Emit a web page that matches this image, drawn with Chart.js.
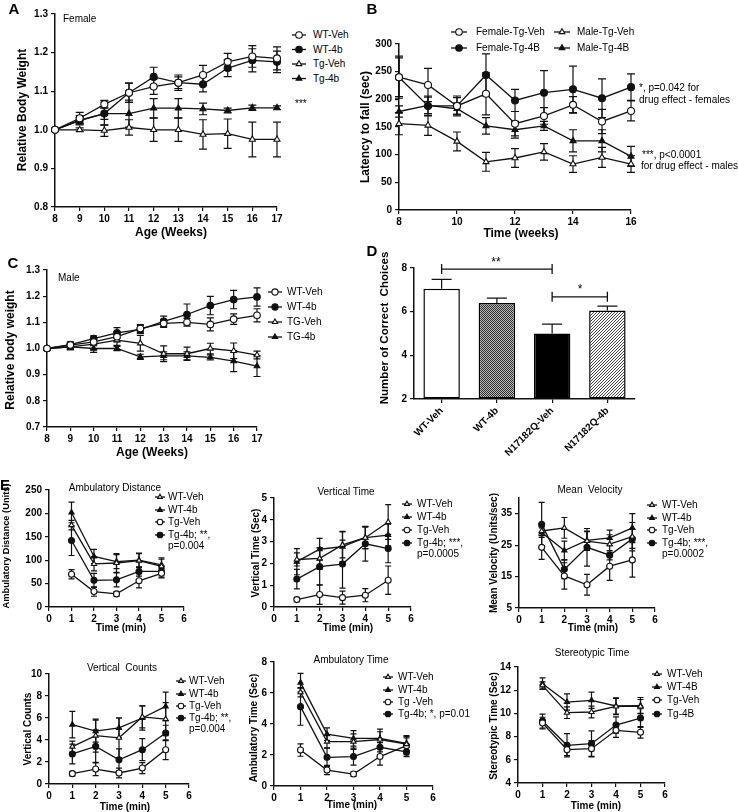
<!DOCTYPE html>
<html>
<head>
<meta charset="utf-8">
<title>Body weight, rotarod, T-maze and open field</title>
<script src="https://cdn.jsdelivr.net/npm/chart.js@4.4.1/dist/chart.umd.min.js"></script>
<style>
  body { margin: 0; background: #fff; }
  #fig { position: relative; width: 738px; height: 812px; overflow: hidden; font-family: 'Liberation Sans', Arial, sans-serif; color: #000; }
  #fig canvas { position: absolute; left: 0; top: 0; }
  .t { position: absolute; white-space: pre; line-height: 1; }
</style>
</head>
<body>
<div id="fig"></div>
<script>
// --- Data: A, female relative body weight ---
const weeksA = [8, 9, 10, 11, 12, 13, 14, 15, 16, 17];
const femWtVeh = [1.0, 1.03, 1.066, 1.096, 1.112, 1.122, 1.142, 1.176, 1.19, 1.185];
const femWtVehErr = [0, 0.015, 0.01, 0.025, 0.02, 0.02, 0.025, 0.022, 0.028, 0.03];
const femWt4b = [1.0, 1.025, 1.042, 1.096, 1.137, 1.122, 1.118, 1.16, 1.18, 1.176];
const femWt4bErr = [0, 0.012, 0.015, 0.025, 0.025, 0.015, 0.02, 0.022, 0.03, 0.028];
const femTgVeh = [1.0, 1.0, 0.998, 1.006, 1.0, 1.0, 0.988, 0.99, 0.975, 0.975];
const femTgVehErr = [0, 0.005, 0.015, 0.02, 0.03, 0.03, 0.038, 0.038, 0.045, 0.045];
const femTg4b = [1.0, 1.024, 1.042, 1.042, 1.056, 1.056, 1.054, 1.05, 1.057, 1.057];
const femTg4bErr = [0, 0.008, 0.03, 0.035, 0.025, 0.025, 0.015, 0.006, 0.007, 0.005];
const ticksAx = [8, 9, 10, 11, 12, 13, 14, 15, 16, 17];
const ticksAy = [0.8, 0.9, 1.0, 1.1, 1.2, 1.3];

// --- B, latency to fall ---
const weeksB = [8, 9, 10, 11, 12, 13, 14, 15, 16];
const fTgVeh = [240, 226, 188, 210, 156, 170, 190, 160, 179];
const fTgVehErr = [38, 30, 15, 38, 22, 15, 15, 22, 18];
const fTg4B = [240, 188, 188, 244, 198, 212, 218, 202, 222];
const fTg4BErr = [35, 18, 18, 38, 20, 40, 42, 35, 24];
const mTgVeh = [156, 153, 124, 87, 94, 105, 83, 95, 83];
const mTgVehErr = [20, 18, 17, 17, 17, 15, 15, 18, 15];
const mTg4B = [178, 189, 183, 152, 145, 152, 125, 125, 97];
const mTg4BErr = [10, 15, 10, 15, 15, 8, 20, 20, 18];
const ticksBx = [8, 10, 12, 14, 16];
const ticksBy = [0, 50, 100, 150, 200, 250, 300];

// --- C, male relative body weight ---
const weeksC = [8, 9, 10, 11, 12, 13, 14, 15, 16, 17];
const maleWtVeh = [1.0, 1.013, 1.025, 1.045, 1.076, 1.096, 1.1, 1.092, 1.112, 1.127];
const maleWtVehErr = [0, 0.01, 0.01, 0.02, 0.015, 0.015, 0.015, 0.025, 0.02, 0.025];
const maleWt4b = [1.0, 1.015, 1.038, 1.06, 1.073, 1.104, 1.13, 1.164, 1.187, 1.197];
const maleWt4bErr = [0, 0.01, 0.01, 0.02, 0.015, 0.02, 0.04, 0.035, 0.035, 0.035];
const maleTgVeh = [1.0, 1.006, 1.017, 1.032, 1.02, 0.98, 0.98, 1.0, 0.991, 0.975];
const maleTgVehErr = [0, 0.01, 0.02, 0.02, 0.03, 0.03, 0.025, 0.02, 0.03, 0.015];
const maleTg4b = [1.0, 1.006, 1.0, 1.0, 0.968, 0.972, 0.972, 0.966, 0.952, 0.933];
const maleTg4bErr = [0, 0.01, 0.015, 0.008, 0.01, 0.015, 0.015, 0.01, 0.04, 0.04];
const ticksCy = [0.7, 0.8, 0.9, 1.0, 1.1, 1.2, 1.3];

// --- D, correct choices ---
const groupsD = ['WT-Veh', 'WT-4b', 'N17182Q-Veh', 'N17182Q-4b'];
const choicesD = [7.05, 6.4, 5.0, 6.05];
const choicesErrD = [0.43, 0.22, 0.43, 0.2];
const ticksDy = [2, 4, 6, 8];
const sigPairs = [[0, 2], [2, 3]];
const sigLevels = [7.95, 6.68];

// --- E, open field (minutes 1-5) ---
const minutes = [1, 2, 3, 4, 5];
const ticksEx = [0, 1, 2, 3, 4, 5, 6];
const adWtVeh = [175, 92, 94, 99, 87], adWtVehErr = [10, 15, 20, 15, 15];
const adWt4b = [202, 108, 97, 100, 90], adWt4bErr = [22, 15, 15, 15, 15];
const adTgVeh = [70, 33, 28, 56, 72], adTgVehErr = [10, 10, 5, 15, 10];
const adTg4b = [142, 57, 58, 76, 76], adTg4bErr = [32, 15, 15, 10, 12];
const ticksE1y = [0, 50, 100, 150, 200, 250];

const vtWtVeh = [2.18, 2.23, 2.85, 3.18, 3.9], vtWtVehErr = [0.3, 0.5, 0.6, 0.5, 0.8];
const vtWt4b = [2.08, 2.65, 2.77, 3.18, 3.3], vtWt4bErr = [0.6, 0.5, 0.7, 0.5, 0.5];
const vtTgVeh = [0.34, 0.57, 0.43, 0.54, 1.23], vtTgVehErr = [0.1, 0.45, 0.3, 0.3, 0.65];
const vtTg4b = [1.28, 1.85, 1.97, 2.9, 2.68], vtTg4bErr = [0.45, 0.85, 1.1, 0.8, 0.65];
const ticksE2y = [0, 1, 2, 3, 4, 5];

const mvWtVeh = [29.5, 30.5, 26.3, 25.3, 27.7], mvWtVehErr = [1.5, 3.3, 3, 3, 4.5];
const mvWt4b = [29.0, 23.3, 26.5, 27.3, 30.5], mvWt4bErr = [1.5, 3, 3, 2.5, 4.5];
const mvTgVeh = [24.3, 15.2, 12.4, 18.3, 20.3], mvTgVehErr = [3.8, 4.2, 3.3, 4.5, 5.5];
const mvTg4b = [31.6, 17.3, 24.3, 21.8, 27.0], mvTg4bErr = [7, 3, 6, 1.5, 3];
const ticksE3y = [5, 15, 25, 35];

const vcWtVeh = [3.4, 4.4, 4.2, 6.1, 5.9], vcWtVehErr = [0.5, 1.5, 1.8, 1.0, 1.5];
const vcWt4b = [5.4, 4.8, 5.1, 6.0, 7.06], vcWt4bErr = [1.2, 1.0, 0.9, 1.1, 1.3];
const vcTgVeh = [0.94, 1.36, 1.0, 1.45, 3.12], vcTgVehErr = [0.2, 0.6, 0.45, 0.5, 0.9];
const vcTg4b = [2.73, 3.42, 2.2, 3.12, 4.64], vcTg4bErr = [0.9, 1.5, 1.0, 1.0, 0.7];
const ticksE4y = [0, 2, 4, 6, 8, 10];

const atWtVeh = [6.05, 2.86, 2.86, 3.0, 2.7], atWtVehErr = [0.3, 0.4, 0.5, 0.5, 0.4];
const atWt4b = [6.67, 3.35, 3.07, 3.07, 2.75], atWt4bErr = [0.6, 0.4, 0.5, 0.6, 0.5];
const atTgVeh = [2.32, 1.03, 0.77, 1.9, 2.6], atTgVehErr = [0.4, 0.3, 0.15, 0.55, 0.6];
const atTg4b = [5.12, 1.85, 1.9, 2.5, 2.2], atTg4bErr = [1.2, 0.6, 0.55, 0.3, 0.3];
const ticksE5y = [0, 2, 4, 6, 8];

const stWtVeh = [12.42, 10.06, 10.12, 10.6, 10.6], stWtVehErr = [0.3, 0.5, 0.5, 0.7, 0.6];
const stWt4B = [12.56, 10.98, 11.13, 10.64, 10.67], stWt4BErr = [0.5, 0.7, 0.7, 0.7, 0.7];
const stTgVeh = [9.17, 6.87, 6.96, 8.54, 8.37], stTgVehErr = [0.5, 0.5, 0.7, 0.6, 0.5];
const stTg4B = [9.34, 7.25, 7.39, 9.0, 9.6], stTg4BErr = [0.6, 1.0, 1.1, 0.7, 0.8];
const ticksE6y = [4, 6, 8, 10, 12, 14];

// --- Setup ---
const W = 738, H = 812;
const FONT = "'Liberation Sans', Arial, sans-serif";
const INK = '#111';
const fig = document.getElementById('fig');
const SHAPES_AC = [['circle', false], ['circle', true], ['triangle', false], ['triangle', true]];
const SHAPES_E = [['triangle', false], ['triangle', true], ['circle', false], ['circle', true]];

function txt(s, x, y, o = {}) {
    const d = document.createElement('div');
    d.className = 't';
    d.textContent = s;
    d.style.left = x + 'px';
    d.style.top = y + 'px';
    d.style.fontSize = (o.size || 10) + 'px';
    if (o.bold) d.style.fontWeight = 'bold';
    let tf = o.center ? 'translate(-50%,-50%)' : 'translate(0,-50%)';
    if (o.rot) tf = 'translate(-50%,-50%) rotate(-90deg)';
    d.style.transform = tf;
    fig.appendChild(d);
}

function drawMarker(ctx, shape, filled, x, y, r) {
    ctx.beginPath();
    if (shape === 'circle') {
        ctx.arc(x, y, r, 0, Math.PI * 2);
    } else {
        ctx.moveTo(x, y - r);
        ctx.lineTo(x + r * 0.866, y + r * 0.5);
        ctx.lineTo(x - r * 0.866, y + r * 0.5);
        ctx.closePath();
    }
    ctx.fillStyle = filled ? INK : '#fff';
    ctx.fill();
    ctx.lineWidth = 1.1;
    ctx.strokeStyle = INK;
    ctx.stroke();
}

// error bars, drawn from each dataset's err array through the y scale
function drawErr(chart, o) {
    const ctx = chart.ctx, y = chart.scales.y;
    ctx.save();
    ctx.strokeStyle = INK;
    ctx.lineWidth = 1.2;
    chart.data.datasets.forEach((ds, di) => {
        if (!ds.err) return;
        chart.getDatasetMeta(di).data.forEach((el, i) => {
            const e = ds.err[i];
            if (!e) return;
            const raw = ds.data[i];
            const v = typeof raw === 'number' ? raw : raw.y;
            const top = y.getPixelForValue(v + e);
            const bot = o.bar ? el.y : y.getPixelForValue(v - e);
            const c = o.cap || 3;
            ctx.beginPath();
            ctx.moveTo(el.x, top); ctx.lineTo(el.x, bot);
            ctx.moveTo(el.x - c, top); ctx.lineTo(el.x + c, top);
            if (!o.bar) { ctx.moveTo(el.x - c, bot); ctx.lineTo(el.x + c, bot); }
            ctx.stroke();
        });
    });
    ctx.restore();
}

const errorBars = {
    id: 'errorBars',
    beforeDatasetsDraw(chart, args, o) { if (!o.bar) drawErr(chart, o); },
    afterDatasetsDraw(chart, args, o) { if (o.bar) drawErr(chart, o); }
};

const legendMarks = {
    id: 'legendMarks',
    afterDraw(chart, args, o) {
        const ctx = chart.ctx;
        (o.items || []).forEach(it => {
            ctx.save();
            ctx.strokeStyle = INK;
            ctx.lineWidth = 1.3;
            ctx.beginPath();
            ctx.moveTo(it.x - it.half, it.y);
            ctx.lineTo(it.x + it.half, it.y);
            ctx.stroke();
            drawMarker(ctx, it.shape, it.filled, it.x, it.y, it.r);
            ctx.restore();
        });
    }
};

const brackets = {
    id: 'brackets',
    afterDraw(chart, args, o) {
        const { ctx, scales: { x, y } } = chart;
        ctx.save();
        ctx.strokeStyle = INK;
        ctx.lineWidth = 1.3;
        sigPairs.forEach((p, k) => {
            const x1 = x.getPixelForValue(p[0]), x2 = x.getPixelForValue(p[1]);
            const yy = y.getPixelForValue(sigLevels[k]);
            ctx.beginPath();
            ctx.moveTo(x1, yy); ctx.lineTo(x2, yy);
            ctx.moveTo(x1, yy - 5); ctx.lineTo(x1, yy + 5);
            ctx.moveTo(x2, yy - 5); ctx.lineTo(x2, yy + 5);
            ctx.stroke();
        });
        ctx.restore();
    }
};

function addCanvas() {
    const c = document.createElement('canvas');
    c.width = W; c.height = H;
    fig.appendChild(c);
    return c;
}

function axisBase(fontSize) {
    return {
        grid: { display: true, drawOnChartArea: false, color: INK, lineWidth: 1.2, tickLength: 4, offset: false },
        border: { display: true, color: INK, width: 1.5 },
        ticks: { autoSkip: false, color: '#000', padding: 2, font: { family: FONT, size: fontSize || 10, weight: 'bold' } }
    };
}

function xScale(box, o) {
    const s = axisBase(o.font);
    s.type = o.type || 'linear';
    s.offset = !!o.offset;
    if (o.min !== undefined) { s.min = o.min; s.max = o.max; }
    s.ticks.maxRotation = o.rot || 0;
    s.ticks.minRotation = o.rot || 0;
    if (o.ticks) s.afterBuildTicks = sc => { sc.ticks = o.ticks.map(v => ({ value: v })); };
    s.afterFit = sc => { sc.height = H - box.b; sc.paddingLeft = 0; sc.paddingRight = 0; };
    return s;
}

function yScale(box, o) {
    const s = axisBase(o.font);
    s.type = 'linear';
    s.min = o.min; s.max = o.max;
    s.ticks.padding = 3;
    if (o.cb) s.ticks.callback = o.cb;
    s.afterBuildTicks = sc => { sc.ticks = o.ticks.map(v => ({ value: v })); };
    s.afterFit = sc => { sc.width = box.l; sc.paddingTop = 0; sc.paddingBottom = 0; };
    return s;
}

function lineSets(xs, valueLists, errLists, shapes, r) {
    return valueLists.map((ys, k) => ({
        data: xs.map((x, i) => ({ x, y: ys[i] })),
        err: errLists[k],
        showLine: true,
        clip: false,
        borderColor: INK,
        borderWidth: 1.3,
        pointStyle: shapes[k][0],
        pointRadius: r,
        pointHoverRadius: r,
        pointBackgroundColor: shapes[k][1] ? INK : '#fff',
        pointBorderColor: INK,
        pointBorderWidth: 1.1
    }));
}

// legend: marker + short line on the canvas, names as page text
function legend(spec, shapes, r) {
    const pick = (v, k) => Array.isArray(v) ? v[k] : v;
    spec.names.forEach((n, k) => txt(n, pick(spec.tx, k), spec.rows[k]));
    return spec.names.map((n, k) => ({
        x: pick(spec.mx, k), y: spec.rows[k], half: spec.half,
        shape: shapes[k][0], filled: shapes[k][1], r
    }));
}

function lineChart(box, xo, yo, sets, items, cap) {
    return new Chart(addCanvas(), {
        type: 'scatter',
        data: { datasets: sets },
        options: {
            responsive: false,
            animation: false,
            devicePixelRatio: 1,
            events: [],
            layout: { padding: { top: box.t, right: W - box.r, left: 0, bottom: 0 } },
            scales: { x: xScale(box, xo), y: yScale(box, yo) },
            plugins: {
                legend: { display: false },
                tooltip: { enabled: false },
                errorBars: { cap },
                legendMarks: { items }
            }
        },
        plugins: [errorBars, legendMarks]
    });
}

const fix1 = v => v.toFixed(1);

// --- A ---
lineChart({ l: 55, t: 14, r: 277, b: 207 },
    { min: 8, max: 17, ticks: ticksAx },
    { min: 0.8, max: 1.3, ticks: ticksAy, cb: fix1 },
    lineSets(weeksA, [femWtVeh, femWt4b, femTgVeh, femTg4b], [femWtVehErr, femWt4bErr, femTgVehErr, femTg4bErr], SHAPES_AC, 3.5),
    legend({ names: ['WT-Veh', 'WT-4b', 'Tg-Veh', 'Tg-4b'], mx: 299, half: 7, tx: 313, rows: [35, 49.5, 64, 78.5] }, SHAPES_AC, 3.3),
    4);

// --- B ---
lineChart({ l: 399, t: 44, r: 631, b: 210 },
    { min: 8, max: 16, ticks: ticksBx },
    { min: 0, max: 300, ticks: ticksBy },
    lineSets(weeksB, [fTgVeh, fTg4B, mTgVeh, mTg4B], [fTgVehErr, fTg4BErr, mTgVehErr, mTg4BErr], SHAPES_AC, 3.5),
    legend({ names: ['Female-Tg-Veh', 'Female-Tg-4B', 'Male-Tg-Veh', 'Male-Tg-4B'], mx: [459, 459, 562, 562], half: 8, tx: [476, 476, 577, 577], rows: [32, 48, 32, 48] }, SHAPES_AC, 3.3),
    4);

// --- C ---
lineChart({ l: 47, t: 270, r: 257, b: 427 },
    { min: 8, max: 17, ticks: ticksAx },
    { min: 0.7, max: 1.3, ticks: ticksCy, cb: fix1 },
    lineSets(weeksC, [maleWtVeh, maleWt4b, maleTgVeh, maleTg4b], [maleWtVehErr, maleWt4bErr, maleTgVehErr, maleTg4bErr], SHAPES_AC, 3.3),
    legend({ names: ['WT-Veh', 'WT-4b', 'TG-Veh', 'TG-4b'], mx: 275, half: 7, tx: 287, rows: [292, 307, 322, 337] }, SHAPES_AC, 3.1),
    3.5);

// --- D (bars with fill patterns) ---
function pattern(n, draw) {
    const p = document.createElement('canvas');
    p.width = p.height = n;
    draw(p.getContext('2d'));
    return p.getContext('2d').createPattern(p, 'repeat');
}
const checker = pattern(2, g => {
    g.fillStyle = '#bdbdbd'; g.fillRect(0, 0, 2, 2);
    g.fillStyle = '#2a2a2a'; g.fillRect(0, 0, 1, 1); g.fillRect(1, 1, 1, 1);
});
const hatch = pattern(3, g => {
    g.fillStyle = '#fff'; g.fillRect(0, 0, 3, 3);
    g.fillStyle = '#444'; g.fillRect(0, 2, 1, 1); g.fillRect(1, 1, 1, 1); g.fillRect(2, 0, 1, 1);
});
const boxD = { l: 414, t: 268, r: 635, b: 399 };
new Chart(addCanvas(), {
    type: 'bar',
    data: {
        labels: groupsD,
        datasets: [{
            data: choicesD,
            err: choicesErrD,
            base: 2,
            backgroundColor: ['#fff', checker, '#000', hatch],
            borderColor: '#000',
            borderWidth: 1.5,
            borderSkipped: false,
            barPercentage: 0.66,
            categoryPercentage: 1
        }]
    },
    options: {
        responsive: false,
        animation: false,
        devicePixelRatio: 1,
        events: [],
        layout: { padding: { top: boxD.t, right: W - boxD.r, left: 0, bottom: 0 } },
        scales: {
            x: xScale(boxD, { type: 'category', offset: true, rot: 45 }),
            y: yScale(boxD, { min: 2, max: 8, ticks: ticksDy })
        },
        plugins: { legend: { display: false }, tooltip: { enabled: false }, errorBars: { bar: true, cap: 10 } }
    },
    plugins: [errorBars, brackets]
});

// --- E panels ---
const eNames = ['WT-Veh', 'WT-4b', 'Tg-Veh'];
lineChart({ l: 49, t: 490, r: 184, b: 607 },
    { min: 0, max: 6, ticks: ticksEx },
    { min: 0, max: 250, ticks: ticksE1y },
    lineSets(minutes, [adWtVeh, adWt4b, adTgVeh, adTg4b], [adWtVehErr, adWt4bErr, adTgVehErr, adTg4bErr], SHAPES_E, 3),
    legend({ names: [...eNames, 'Tg-4b; **,'], mx: 160, half: 5, tx: 168, rows: [497, 510, 522, 535] }, SHAPES_E, 2.8),
    3);
lineChart({ l: 274, t: 498, r: 411, b: 607 },
    { min: 0, max: 6, ticks: ticksEx },
    { min: 0, max: 5, ticks: ticksE2y },
    lineSets(minutes, [vtWtVeh, vtWt4b, vtTgVeh, vtTg4b], [vtWtVehErr, vtWt4bErr, vtTgVehErr, vtTg4bErr], SHAPES_E, 3),
    legend({ names: [...eNames, 'Tg-4b; ***,'], mx: 407, half: 5, tx: 417, rows: [504, 517, 530, 543] }, SHAPES_E, 2.8),
    3);
lineChart({ l: 519, t: 498, r: 655, b: 608 },
    { min: 0, max: 6, ticks: ticksEx },
    { min: 5, max: 40, ticks: ticksE3y },
    lineSets(minutes, [mvWtVeh, mvWt4b, mvTgVeh, mvTg4b], [mvWtVehErr, mvWt4bErr, mvTgVehErr, mvTg4bErr], SHAPES_E, 3),
    legend({ names: [...eNames, 'Tg-4b; ***,'], mx: 652, half: 5, tx: 662, rows: [505, 518, 530, 543] }, SHAPES_E, 2.8),
    3);
lineChart({ l: 49, t: 674, r: 189, b: 784 },
    { min: 0, max: 6, ticks: ticksEx },
    { min: 0, max: 10, ticks: ticksE4y },
    lineSets(minutes, [vcWtVeh, vcWt4b, vcTgVeh, vcTg4b], [vcWtVehErr, vcWt4bErr, vcTgVehErr, vcTg4bErr], SHAPES_E, 3),
    legend({ names: [...eNames, 'Tg-4b; **,'], mx: 181, half: 5, tx: 189, rows: [681, 694, 706, 718] }, SHAPES_E, 2.8),
    3);
lineChart({ l: 274, t: 662, r: 433, b: 786 },
    { min: 0, max: 6, ticks: ticksEx },
    { min: 0, max: 8, ticks: ticksE5y },
    lineSets(minutes, [atWtVeh, atWt4b, atTgVeh, atTg4b], [atWtVehErr, atWt4bErr, atTgVehErr, atTg4bErr], SHAPES_E, 3),
    legend({ names: ['WT-Veh', 'WT-4b', 'Tg -Veh', 'Tg-4b; *, p=0.01'], mx: 388, half: 5, tx: 398, rows: [677, 690, 702, 714] }, SHAPES_E, 2.8),
    3);
lineChart({ l: 518, t: 667, r: 665, b: 783 },
    { min: 0, max: 6, ticks: ticksEx },
    { min: 4, max: 14, ticks: ticksE6y },
    lineSets(minutes, [stWtVeh, stWt4B, stTgVeh, stTg4B], [stWtVehErr, stWt4BErr, stTgVehErr, stTg4BErr], SHAPES_E, 3),
    legend({ names: ['WT-Veh', 'WT-4B', 'Tg-Veh', 'Tg-4B'], mx: 657, half: 5, tx: 667, rows: [674, 687, 700, 714] }, SHAPES_E, 2.8),
    3);

// --- Text: panel letters, axis titles, notes ---
[['A', 14, 8], ['B', 372, 8], ['C', 13, 262], ['D', 372, 250], ['E', 5, 484]]
    .forEach(([s, x, y]) => txt(s, x, y, { size: 15, bold: true, center: true }));

[['Relative Body Weight', 22, 110, 12], ['Latency to fall (sec)', 365, 127, 12],
 ['Relative body weight', 10, 350, 12], ['Number of Correct  Choices', 385, 328, 11.5],
 ['Ambulatory Distance (Units)', 7, 546, 9.3], ['Vertical Time (Sec)', 256, 553, 10],
 ['Mean Velocity (Units/sec)', 494, 553, 10], ['Vertical Counts', 28, 729, 10],
 ['Ambulatory Time (Sec)', 254, 728, 10], ['Stereotypic Time (Sec)', 494, 726, 10]]
    .forEach(([s, x, y, f]) => txt(s, x, y, { size: f, bold: true, rot: true }));

[['Age (Weeks)', 171, 232, 12], ['Time (weeks)', 521, 233, 12], ['Age (Weeks)', 152, 452, 12],
 ['Time (min)', 121, 628, 10], ['Time (min)', 348, 628, 10], ['Time (min)', 593, 628, 10],
 ['Time (min)', 125, 807, 10], ['Time (min)', 352, 805, 10], ['Time (min)', 596, 806, 10]]
    .forEach(([s, x, y, f]) => txt(s, x, y, { size: f, bold: true, center: true }));

[['Ambulatory Distance', 115, 488], ['Vertical Time', 346, 492], ['Mean  Velocity', 590, 490],
 ['Vertical  Counts', 122, 668], ['Ambulatory Time', 351, 660], ['Stereotypic Time', 592, 653]]
    .forEach(([s, x, y]) => txt(s, x, y, { center: true }));

[['Female', 63, 19], ['***', 295, 104], ['*, p=0.042 for', 639, 88], ['drug effect - females', 639, 100],
 ['***, p<0.0001', 642, 155], ['for drug effect - males', 641, 166], ['Male', 58, 278],
 ['p=0.004', 168, 546], ['p=0.0005', 417, 554], ['p=0.0002', 662, 554], ['p=0.004', 189, 729]]
    .forEach(([s, x, y]) => txt(s, x, y));

txt('**', 496, 262, { size: 12, center: true });
txt('*', 580, 289, { size: 12, center: true });
</script>
</body>
</html>
